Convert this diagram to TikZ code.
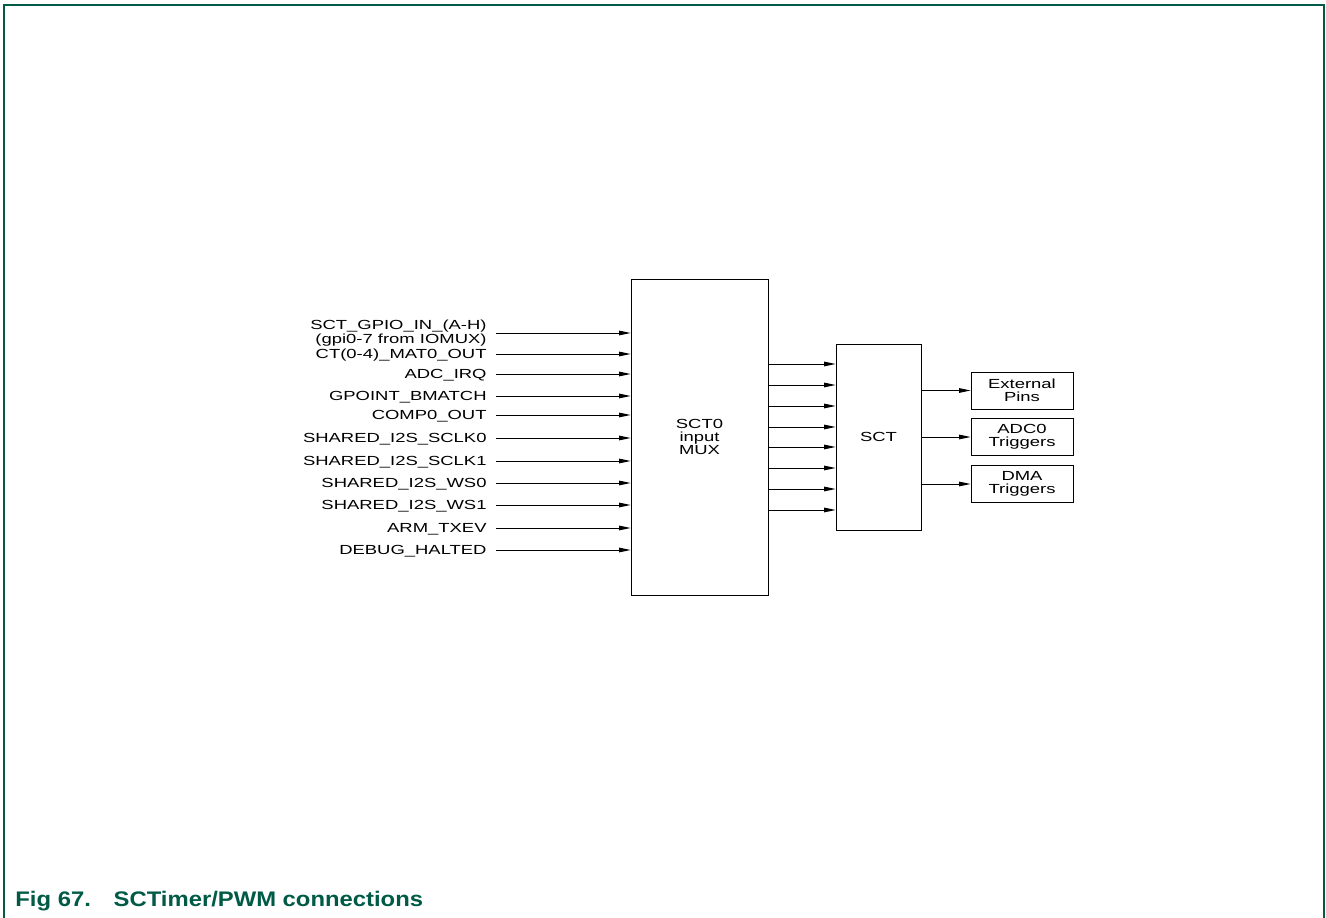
\documentclass[tikz,border=0pt]{standalone}
\usepackage{fontspec}
\setmainfont{Liberation Sans}
\newfontfamily\figfont{Liberation Sans}[FakeStretch=1.4]
\newfontfamily\capfont{Liberation Sans}[FakeStretch=1.13]
\usetikzlibrary{arrows.meta}
\definecolor{nxpgreen}{RGB}{0,90,70}

\begin{document}
\begin{tikzpicture}[x=0.02cm, y=-0.02cm, line width=0.5pt,
  sig/.style={-{Triangle[length=6.5pt,width=2.6pt]}},
  blk/.style={draw, inner sep=0pt, align=center, font=\figfont\fontsize{7.5}{7.6}\selectfont},
  lbl/.style={anchor=mid east, inner sep=0pt, align=right, font=\figfont\fontsize{7.5}{7.6}\selectfont}]
  \useasboundingbox (0,0) rectangle (1326,918);
  % frame
  \draw[nxpgreen, line width=1pt] (4,918) -- (4,5) -- (1324,5) -- (1324,918);
  % blocks
  \node[blk, minimum width=2.74cm, minimum height=6.32cm] (mux) at (699.5,437) {SCT0\\input\\MUX};
  \node[blk, minimum width=1.7cm, minimum height=3.72cm] (sct) at (878.5,437) {SCT};
  % inputs
  \node[lbl, anchor=east] (in1) at (487,333) {SCT\_GPIO\_IN\_(A-H)\\(gpi0-7 from IOMUX)};
  \draw[sig] ([xshift=0.18cm]in1.east) -- (in1.east -| mux.west);
  \foreach \i/\y/\txt in {2/354/CT(0-4)\_MAT0\_OUT, 3/374/ADC\_IRQ, 4/396/GPOINT\_BMATCH,
      5/415/COMP0\_OUT, 6/438/SHARED\_I2S\_SCLK0, 7/461/SHARED\_I2S\_SCLK1,
      8/483/SHARED\_I2S\_WS0, 9/505/SHARED\_I2S\_WS1, 10/528/ARM\_TXEV, 11/550/DEBUG\_HALTED}{
    \node[lbl] (in\i) at (487,\y) {\txt};
    \draw[sig] ([xshift=0.18cm]in\i.mid east) -- (in\i.mid east -| mux.west);
  }
  % mux to sct
  \foreach \y in {364,385,406,427,447,468,489,510}
    \draw[sig] (mux.east |- 0,\y) -- (sct.west |- 0,\y);
  % outputs
  \foreach \n/\y/\txt in {ext/390.5/External\\Pins, adc/437/ADC0\\Triggers, dma/484/DMA\\Triggers}{
    \node[blk, minimum width=2.04cm, minimum height=0.74cm] (\n) at (1022,\y) {\txt};
    \draw[sig] (sct.east |- \n.west) -- (\n.west);
  }
  \node[anchor=base west, inner sep=0pt, text=nxpgreen, font=\capfont\bfseries\fontsize{12}{14}\selectfont]
    (cap) at (15,906) {Fig 67.\hspace{13pt}SCTimer/PWM connections};
\end{tikzpicture}
\end{document}
